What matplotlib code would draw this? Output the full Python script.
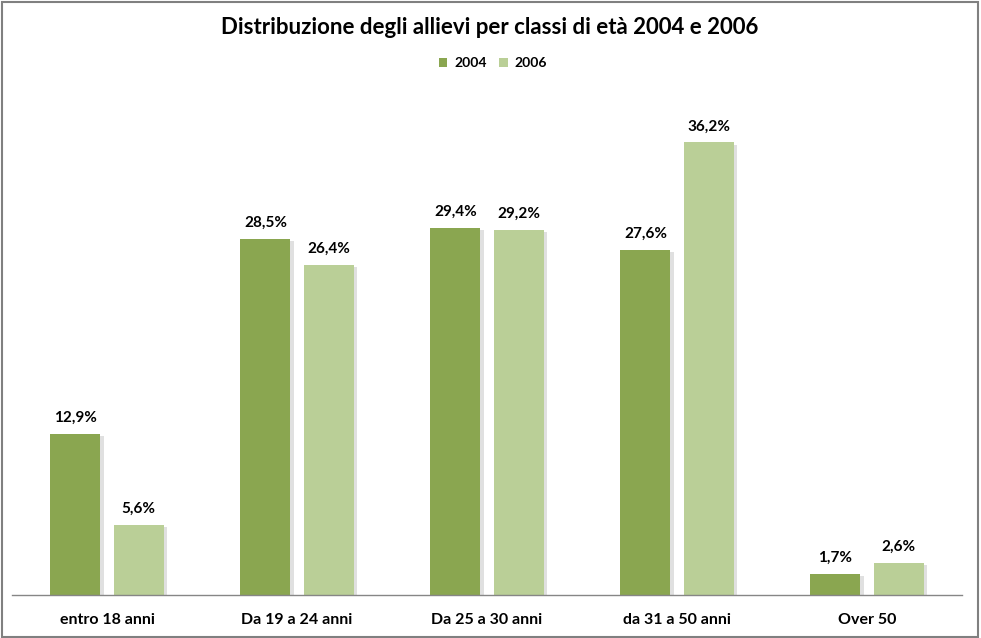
import matplotlib
matplotlib.use("Agg")
import matplotlib.pyplot as plt
import matplotlib.patheffects as pe
import numpy as np

# data
categories = ["entro 18 anni", "Da 19 a 24 anni", "Da 25 a 30 anni", "da 31 a 50 anni", "Over 50"]
values_2004 = [12.9, 28.5, 29.4, 27.6, 1.7]
values_2006 = [5.6, 26.4, 29.2, 36.2, 2.6]
series_names = ["2004", "2006"]

color_2004 = "#8AA650"
color_2006 = "#BACF97"

plt.rcParams["font.family"] = ["Lato", "DejaVu Sans"]

fig = plt.figure(figsize=(9.81, 6.38), dpi=100)
ax = fig.add_axes([12 / 981, 43 / 638, 950 / 981, 500 / 638])

x = np.arange(len(categories))
width = 0.263
offset = 0.166
shadow = [pe.SimplePatchShadow(offset=(2.5, -1.5), shadow_rgbFace="#999999", alpha=0.3), pe.Normal()]

bars1 = ax.bar(x - offset, values_2004, width, color=color_2004, label=series_names[0], path_effects=shadow)
bars2 = ax.bar(x + offset, values_2006, width, color=color_2006, label=series_names[1], path_effects=shadow)

for bars in (bars1, bars2):
    for b in bars:
        h = b.get_height()
        ax.annotate(f"{h:.1f}%".replace(".", ","), (b.get_x() + b.get_width() / 2, h),
                    xytext=(0, 6.5), textcoords="offset points", ha="center", va="bottom",
                    fontsize=11, fontweight="bold")

ax.set_xlim(-0.5, len(categories) - 0.5)
ax.set_ylim(0, 40)
ax.set_xticks(x)
ax.set_xticklabels(categories, fontsize=11.5, fontweight="bold")
ax.tick_params(axis="x", length=0, pad=13)
ax.set_yticks([])
for s in ("top", "right", "left"):
    ax.spines[s].set_visible(False)
ax.spines["bottom"].set_color("#868686")
ax.spines["bottom"].set_linewidth(1)

fig.text(490 / 981, 1 - 28 / 638, "Distribuzione degli allievi per classi di età 2004 e 2006",
         ha="center", va="center", fontsize=16, fontweight="bold")
leg = fig.legend(loc="center", bbox_to_anchor=(493 / 981, 1 - 63 / 638), ncol=2, frameon=False,
                 handlelength=0.6, handleheight=0.6, handletextpad=0.5, columnspacing=0.9,
                 prop={"size": 10, "weight": "bold"})
for h in leg.legend_handles:
    h.set_path_effects([])

# grey chart border
fig.patches.append(plt.Rectangle((0.002, 0.002), 0.995, 0.995, transform=fig.transFigure,
                                 fill=False, edgecolor="#808080", linewidth=1.5))

fig.savefig("out.png", dpi=100)
